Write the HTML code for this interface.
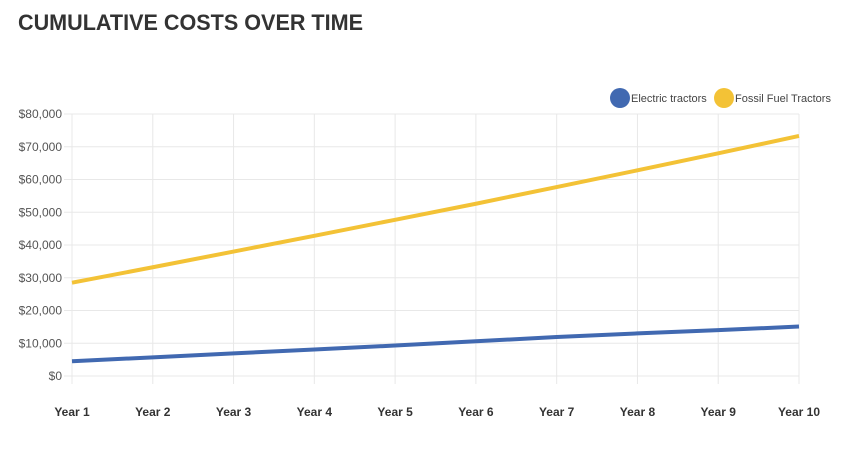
<!DOCTYPE html>
<html><head><meta charset="utf-8"><style>
body{margin:0;background:#fff;}
svg{display:block;font-family:"Liberation Sans",Arial,sans-serif;}
</style></head><body>
<svg id="chart" width="857" height="450" viewBox="0 0 857 450">
<text x="18" y="30" font-size="22" font-weight="bold" fill="#333" textLength="345" lengthAdjust="spacingAndGlyphs">CUMULATIVE COSTS OVER TIME</text>
<g id="grid"></g><g id="axes"></g><g id="series"></g>
<g>
<g><circle cx="620" cy="98" r="10" fill="#4169b1"/><text x="631" y="102" font-size="11" fill="#444">Electric tractors</text></g>
<g><circle cx="724" cy="98" r="10" fill="#f3c236"/><text x="735" y="102" font-size="11" fill="#444">Fossil Fuel Tractors</text></g>
</g>
</svg>
<script>
const categories=["Year 1","Year 2","Year 3","Year 4","Year 5","Year 6","Year 7","Year 8","Year 9","Year 10"];
const electric=[4500,5700,6900,8100,9300,10600,11900,13000,14000,15100];
const fossil=[28500,33200,38000,42800,47700,52600,57700,62800,68000,73300];
const yTicks=[0,10000,20000,30000,40000,50000,60000,70000,80000];
const NS="http://www.w3.org/2000/svg";
const x0=72,x1=799,y0=376,y1=114,yMax=80000;
const xs=i=>x0+(x1-x0)*i/(categories.length-1);
const ys=v=>y0-(y0-y1)*v/yMax;
function mk(t,a,p){const e=document.createElementNS(NS,t);for(const k in a)e.setAttribute(k,a[k]);p.appendChild(e);return e;}
const grid=document.getElementById('grid'),axes=document.getElementById('axes'),ser=document.getElementById('series');
yTicks.forEach(v=>{
 const l=mk('line',{x1:x0-8,x2:x1,y1:ys(v),y2:ys(v),stroke:'#e8e8e8','stroke-width':1},grid);
 
 
 const t=mk('text',{x:62,y:ys(v)+4,'text-anchor':'end','font-size':12,fill:'#555'},axes);
 
 
 t.textContent='$'+v.toLocaleString('en-US');
});
categories.forEach((c,i)=>{
 const l=mk('line',{x1:xs(i),x2:xs(i),y1:y1,y2:y0+8,stroke:'#e8e8e8','stroke-width':1},grid);
 
 
 const t=mk('text',{x:xs(i),y:416,'text-anchor':'middle','font-size':12,'font-weight':'bold',fill:'#333'},axes);
 
 
 t.textContent=c;
});
function line(vals,color,name){
 const p=mk('polyline',{points:vals.map((v,i)=>xs(i)+','+ys(v)).join(' '),fill:'none',stroke:color,'stroke-width':4,'stroke-linejoin':'round'},ser);
 
 
}
line(electric,'#4169b1','electric-tractors-line');
line(fossil,'#f3c236','fossil-fuel-tractors-line');
</script>
</body></html>
